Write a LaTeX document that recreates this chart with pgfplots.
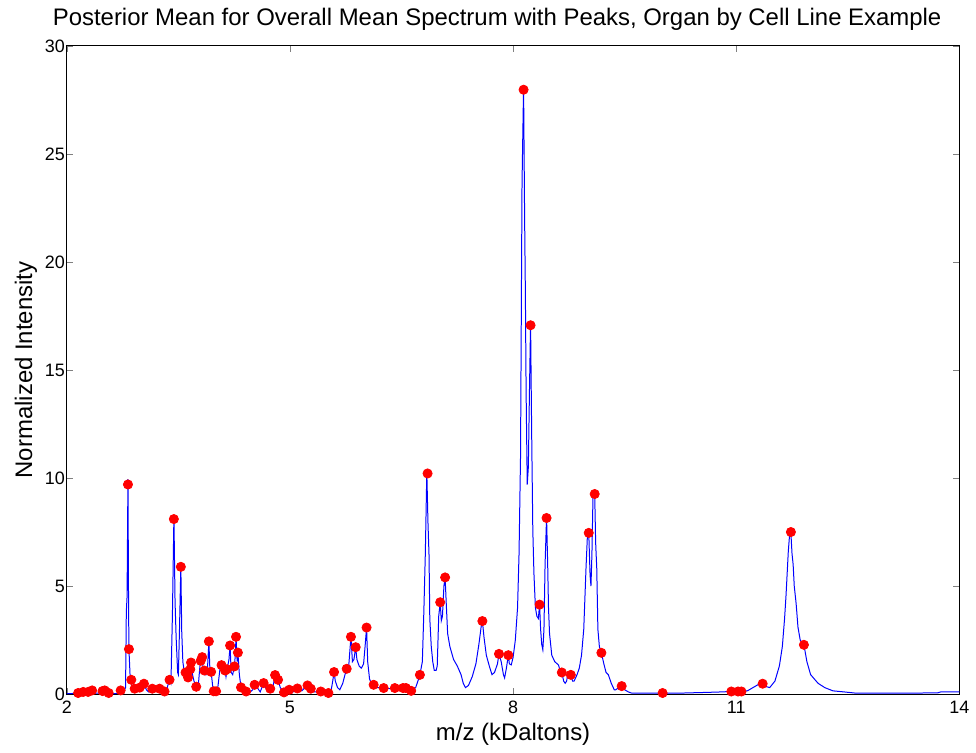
\documentclass[border=0pt]{standalone}
\usepackage{pgfplots}
\pgfplotsset{compat=1.18}
\usepackage{fontspec}
\setmainfont{Liberation Sans}
\begin{document}
\begin{tikzpicture}
\begin{axis}[
  name=ax,
  scale only axis, width=447.5pt, height=325pt,
  xmin=2, xmax=14, ymin=0, ymax=30,
  xtick={2,5,8,11,14}, ytick={0,5,...,30},
  tick align=inside, tick pos=both,
  major tick length=3pt,
  /pgf/number format/assume math mode=true,
  ticklabel style={font=\fontsize{9}{10}\selectfont},
  yticklabel style={xshift=2.5pt},
  xlabel={m/z (kDaltons)}, ylabel={Normalized Intensity},
  label style={font=\fontsize{12}{13}\selectfont},
  title={Posterior Mean for Overall Mean Spectrum with Peaks, Organ by Cell Line Example},
  title style={font=\fontsize{12}{13}\selectfont, yshift=-2pt, xshift=-8pt},
  xlabel style={yshift=2pt}, ylabel style={yshift=-3pt},
  axis line style={line width=0.5pt},
  clip=false,
]
\addplot[blue, line width=0.5pt, mark=none] coordinates {
(2.00,0.02) (2.10,0.03) (2.15,0.06) (2.18,0.03) (2.22,0.10) (2.25,0.04) (2.29,0.10) (2.32,0.05) (2.34,0.17) (2.37,0.05)
(2.45,0.04) (2.48,0.14) (2.51,0.17) (2.54,0.05) (2.56,0.06) (2.60,0.02) (2.68,0.03) (2.72,0.17) (2.76,0.10) (2.79,0.3)
(2.80,3.8) (2.81,4.5) (2.822,9.95) (2.83,4.3) (2.835,2.1) (2.85,0.9) (2.867,0.66) (2.88,0.2) (2.91,0.25) (2.94,0.1)
(2.98,0.3) (3.00,0.15) (3.037,0.48) (3.07,0.2) (3.10,0.1) (3.15,0.25) (3.2,0.15) (3.247,0.25) (3.28,0.1) (3.314,0.12)
(3.35,0.3) (3.38,0.66) (3.40,0.5) (3.42,3.7) (3.44,8.25) (3.455,4.3) (3.47,2.6) (3.49,1.0) (3.50,0.9) (3.515,3.0)
(3.533,5.95) (3.545,2.9) (3.56,1.5) (3.58,1.0) (3.596,1.0) (3.61,0.8) (3.63,0.77) (3.645,1.1) (3.66,1.15) (3.67,1.46)
(3.69,0.9) (3.71,0.6) (3.74,0.34) (3.77,0.5) (3.79,1.3) (3.80,1.54) (3.82,1.71) (3.835,1.0) (3.85,1.09) (3.87,0.9)
(3.89,1.1) (3.91,2.44) (3.925,1.0) (3.94,1.03) (3.96,0.4) (3.975,0.13) (4.007,0.13) (4.03,0.3) (4.06,1.2) (4.08,1.34)
(4.10,1.2) (4.128,1.09) (4.14,0.8) (4.155,1.15) (4.18,1.6) (4.195,2.25) (4.21,1.0) (4.23,0.9) (4.253,1.28) (4.265,1.8)
(4.275,2.65) (4.29,1.5) (4.30,1.92) (4.32,0.9) (4.342,0.31) (4.38,0.15) (4.41,0.12) (4.45,0.05) (4.5,0.2) (4.525,0.43)
(4.56,0.3) (4.60,0.1) (4.646,0.51) (4.69,0.2) (4.735,0.25) (4.77,0.3) (4.80,0.88) (4.82,0.6) (4.84,0.66) (4.87,0.3)
(4.92,0.08) (4.96,0.1) (4.99,0.2) (5.04,0.1) (5.10,0.26) (5.16,0.15) (5.23,0.4) (5.25,0.3) (5.285,0.25) (5.33,0.1)
(5.415,0.12) (5.47,0.08) (5.517,0.05) (5.55,0.1) (5.575,0.6) (5.593,1.02) (5.61,0.6) (5.64,0.3) (5.67,0.2) (5.71,0.5)
(5.74,0.9) (5.763,1.17) (5.79,1.3) (5.81,2.2) (5.82,2.65) (5.84,1.5) (5.86,1.6) (5.884,2.17) (5.90,1.6) (5.93,1.3)
(5.96,1.2) (5.99,1.4) (6.01,2.2) (6.03,3.08) (6.045,1.5) (6.07,0.7) (6.10,0.45) (6.125,0.43) (6.18,0.3) (6.26,0.28)
(6.35,0.25) (6.41,0.28) (6.52,0.28) (6.56,0.28) (6.63,0.15) (6.69,0.3) (6.72,0.6) (6.747,0.89) (6.78,1.5) (6.80,3.8)
(6.82,6.5) (6.84,10.3) (6.855,8.0) (6.87,6.4) (6.88,3.5) (6.90,2.2) (6.92,1.5) (6.94,1.1) (6.965,1.1) (6.98,1.3)
(7.0,3.6) (7.02,4.25) (7.035,3.4) (7.05,3.6) (7.07,5.0) (7.086,5.4) (7.10,4.3) (7.12,2.8) (7.15,2.2) (7.2,1.6)
(7.25,1.3) (7.30,0.9) (7.33,0.5) (7.36,0.3) (7.40,0.4) (7.45,0.8) (7.50,1.4) (7.54,2.3) (7.57,3.1) (7.587,3.38)
(7.61,2.6) (7.64,1.8) (7.68,1.3) (7.716,0.9) (7.75,1.0) (7.79,1.4) (7.81,1.86) (7.84,1.5) (7.87,0.9) (7.886,0.75)
(7.91,1.2) (7.936,1.8) (7.95,1.4) (7.975,1.35) (8.00,1.7) (8.03,2.5) (8.06,4.0) (8.08,6.5) (8.10,11.0) (8.12,23.6)
(8.141,28.1) (8.155,22.0) (8.165,18.6) (8.175,14.0) (8.19,9.7) (8.205,10.5) (8.22,14.0) (8.235,17.2) (8.25,12.0) (8.265,7.6)
(8.28,5.6) (8.30,4.0) (8.32,3.6) (8.34,3.5) (8.356,4.15) (8.37,3.0) (8.385,2.3) (8.40,2.05) (8.415,3.0) (8.43,6.0)
(8.45,8.2) (8.465,6.0) (8.476,4.0) (8.49,2.8) (8.52,1.8) (8.56,1.5) (8.61,1.35) (8.64,1.0) (8.655,1.0) (8.68,0.6)
(8.70,0.5) (8.72,0.6) (8.735,0.94) (8.755,0.8) (8.776,0.89) (8.80,0.6) (8.82,0.6) (8.86,0.9) (8.89,1.2) (8.92,1.8)
(8.95,3.0) (8.98,5.8) (9.00,7.4) (9.017,7.5) (9.035,5.5) (9.047,5.0) (9.06,6.5) (9.075,9.3) (9.097,9.3) (9.11,7.0)
(9.125,5.8) (9.14,3.0) (9.16,2.2) (9.187,1.91) (9.22,1.4) (9.25,1.0) (9.28,0.9) (9.32,0.5) (9.36,0.2) (9.38,0.2)
(9.42,0.3) (9.46,0.37) (9.50,0.2) (9.55,0.1) (9.59,0.05) (9.8,0.04) (10.0,0.05) (10.3,0.05) (10.62,0.08) (10.8,0.1)
(10.93,0.12) (11.0,0.12) (11.07,0.12) (11.15,0.15) (11.25,0.35) (11.3,0.45) (11.355,0.48) (11.4,0.35) (11.45,0.3) (11.52,0.6)
(11.58,1.3) (11.62,2.2) (11.65,3.5) (11.67,4.6) (11.70,6.6) (11.72,7.5) (11.735,7.45) (11.75,6.5) (11.765,6.0) (11.78,5.0)
(11.805,4.2) (11.83,3.1) (11.86,2.5) (11.91,2.28) (11.95,1.5) (12.0,0.9) (12.1,0.5) (12.19,0.3) (12.3,0.15) (12.45,0.1)
(12.59,0.05) (13.0,0.05) (13.5,0.05) (13.71,0.06) (13.75,0.1) (14.0,0.1)
};
\addplot[only marks, mark=*, mark size=2.3pt, red, mark options={fill=red, draw=red}] coordinates {
(2.152,0.05) (2.22,0.1) (2.286,0.1) (2.34,0.17) (2.48,0.14) (2.51,0.17) (2.563,0.05) (2.724,0.17)
(2.822,9.7) (2.835,2.08) (2.867,0.66) (2.912,0.25) (2.98,0.3) (3.037,0.48) (3.149,0.25) (3.247,0.25) (3.314,0.12)
(3.381,0.66) (3.439,8.1) (3.533,5.89) (3.596,1.0) (3.63,0.77) (3.66,1.15) (3.67,1.46) (3.74,0.34) (3.80,1.54)
(3.82,1.71) (3.85,1.09) (3.91,2.44) (3.94,1.03) (3.975,0.13) (4.007,0.13) (4.08,1.34) (4.128,1.09) (4.155,1.15)
(4.195,2.25) (4.253,1.28) (4.275,2.65) (4.30,1.92) (4.342,0.31) (4.41,0.12) (4.525,0.43) (4.646,0.51) (4.735,0.25)
(4.80,0.88) (4.84,0.66) (4.92,0.08) (4.99,0.2) (5.10,0.26) (5.236,0.4) (5.28,0.25) (5.415,0.12) (5.517,0.05)
(5.593,1.02) (5.763,1.17) (5.82,2.65) (5.884,2.17) (6.03,3.08) (6.125,0.43) (6.26,0.28) (6.41,0.28) (6.52,0.28)
(6.56,0.28) (6.63,0.15) (6.747,0.89) (6.85,10.21) (7.02,4.25) (7.086,5.4) (7.587,3.38) (7.81,1.86) (7.936,1.8)
(8.141,27.97) (8.235,17.07) (8.356,4.14) (8.45,8.15) (8.655,1.0) (8.776,0.89) (9.017,7.46) (9.097,9.26) (9.187,1.91)
(9.46,0.37) (10.01,0.05) (10.934,0.12) (11.024,0.12) (11.07,0.12) (11.355,0.48) (11.735,7.5) (11.91,2.28)
};
\end{axis}
\path ([xshift=-33.5pt,yshift=-27.5pt]ax.south west) ([xshift=7pt]ax.south east) ([yshift=23pt]ax.north west);
\end{tikzpicture}
\end{document}
